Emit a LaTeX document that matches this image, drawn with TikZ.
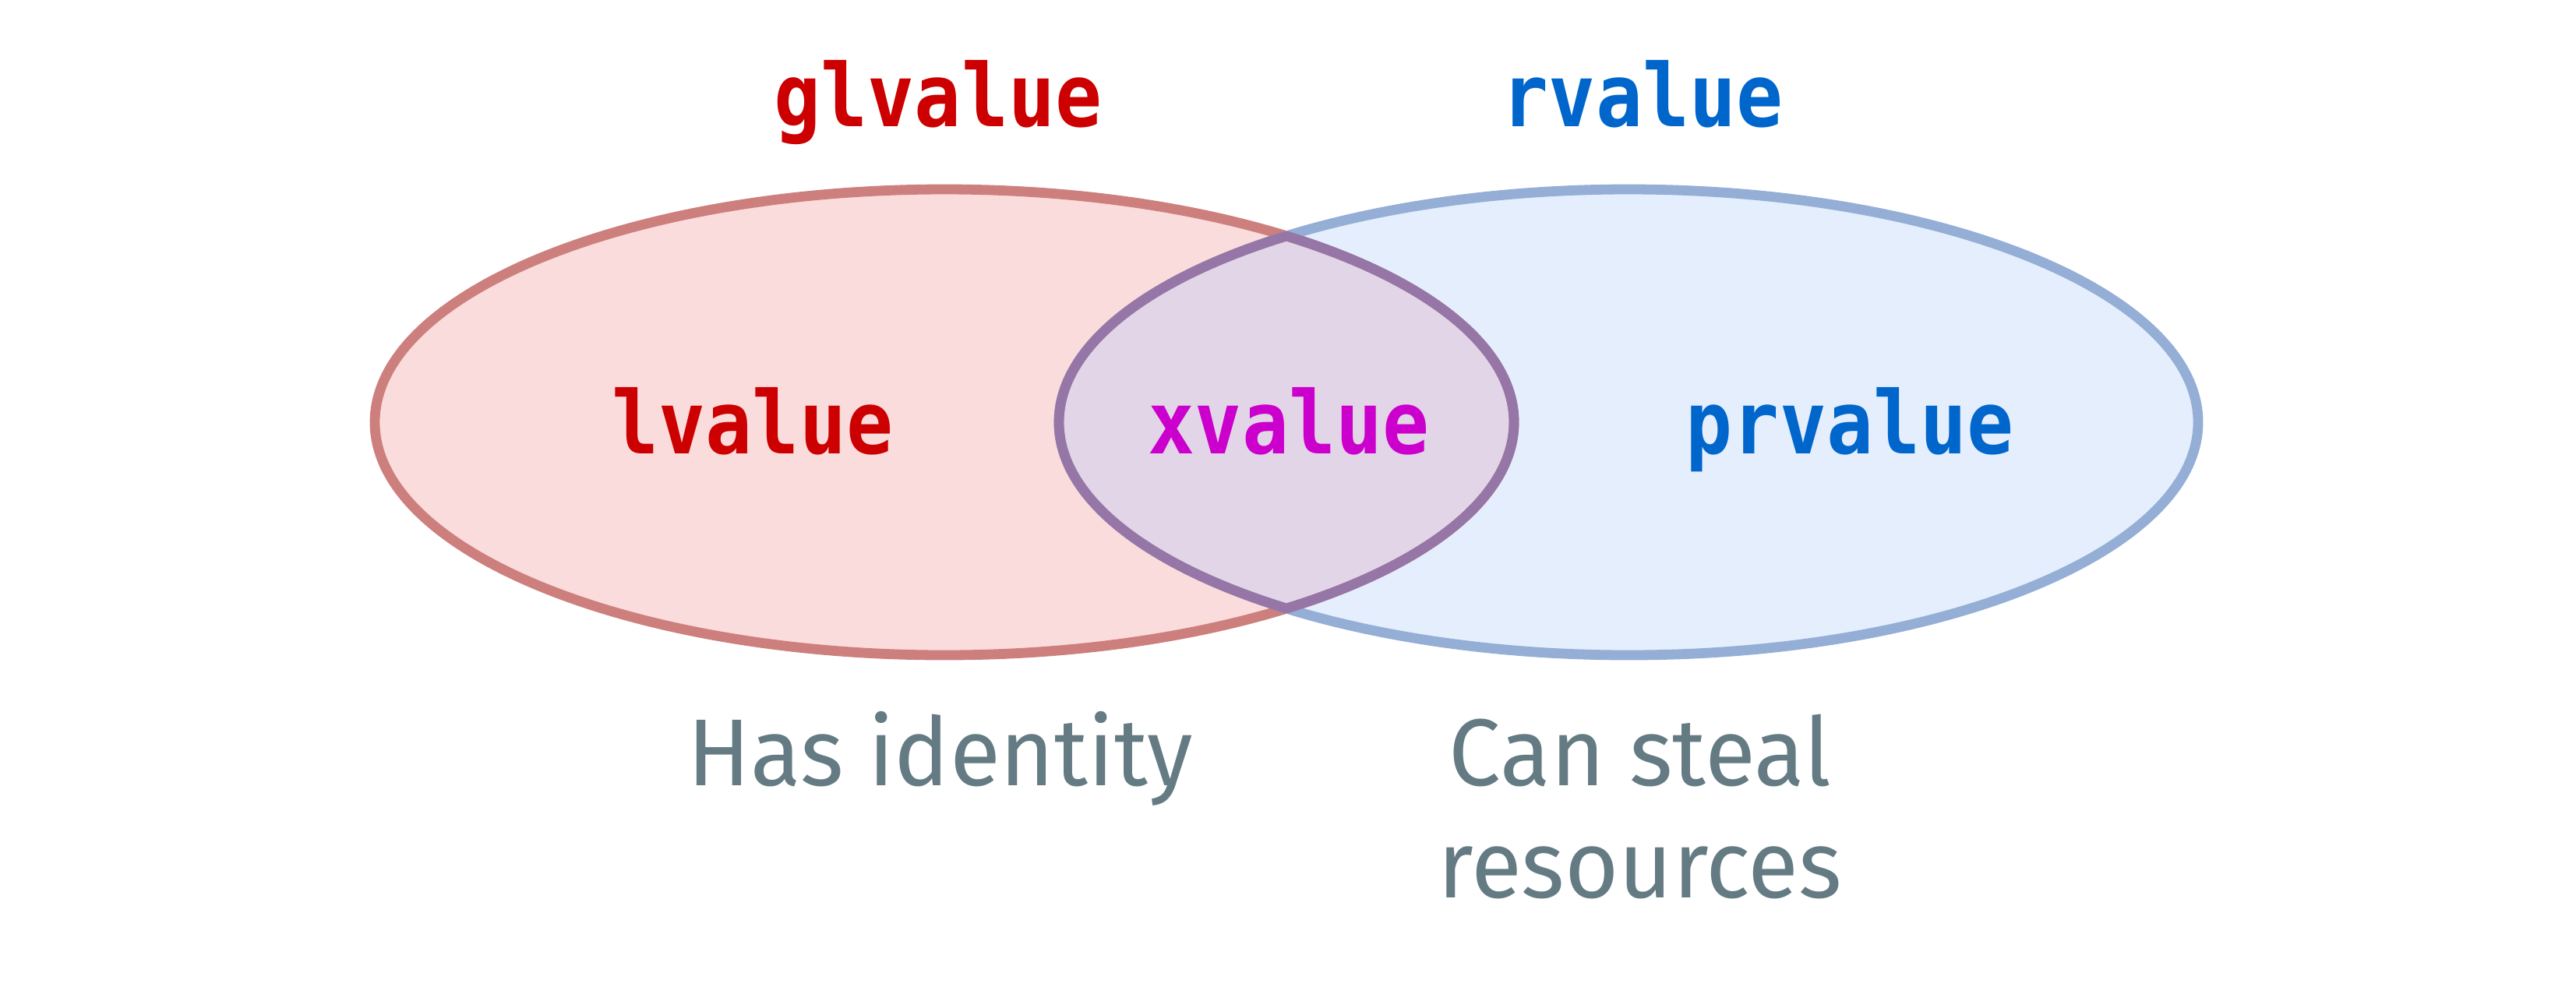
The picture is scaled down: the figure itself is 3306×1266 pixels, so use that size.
\documentclass[tikz,border=0pt]{standalone}
\usepackage{fontspec}
\newfontfamily\codefont{DejaVu Sans Mono}[FakeStretch=0.89]
\newfontfamily\labelfont{Fira Sans}[FakeStretch=0.975]
\definecolor{glred}{HTML}{CC0000}
\definecolor{rblue}{HTML}{0066CC}
\definecolor{xmag}{HTML}{CC00CC}
\definecolor{grayt}{HTML}{657B83}
\definecolor{lfill}{HTML}{F9DCDB}
\definecolor{lstroke}{HTML}{CD7F7D}
\definecolor{rfill}{HTML}{E4EEFC}
\definecolor{rstroke}{HTML}{94AED6}
\definecolor{mfill}{HTML}{E2D5E7}
\definecolor{mstroke}{HTML}{9676A6}
\tikzset{
  code/.style={font=\codefont\bfseries\fontsize{28pt}{34pt}\selectfont, anchor=base, inner sep=0pt},
  caption/.style={font=\labelfont\fontsize{30.5pt}{36pt}\selectfont, text=grayt, anchor=base, inner sep=0pt, align=center},
  ring/.style={line width=3.2pt},
}
\begin{document}
\begin{tikzpicture}[x=0.25pt,y=-0.25pt]
\useasboundingbox (0,0) rectangle (3306,1266);
% sets
\fill[lfill] (1212,542) ellipse [x radius=731, y radius=299];
\fill[rfill] (2090,542) ellipse [x radius=731, y radius=299];
\begin{scope}
  \clip (1212,542) ellipse [x radius=731, y radius=299];
  \fill[mfill] (2090,542) ellipse [x radius=731, y radius=299];
\end{scope}
\draw[ring, lstroke] (1212,542) ellipse [x radius=731, y radius=299];
\draw[ring, rstroke] (2090,542) ellipse [x radius=731, y radius=299];
\begin{scope}
  \clip (1212,542) ellipse [x radius=737, y radius=305];
  \draw[ring, mstroke] (2090,542) ellipse [x radius=731, y radius=299];
\end{scope}
\begin{scope}
  \clip (2090,542) ellipse [x radius=737, y radius=305];
  \draw[ring, mstroke] (1212,542) ellipse [x radius=731, y radius=299];
\end{scope}
% labels
\node[code, text=glred] (gl) at (1204,162) {glvalue};
\node[code, text=rblue] (rv) at (2108,162) {rvalue};
\node[code, text=glred] (lv) at (966,582) {lvalue};
\node[code, text=xmag] (xv) at (1654,582) {xvalue};
\node[code, text=rblue] (pr) at (2374,582) {prvalue};
\node[caption] (ident) at (1207,1008) {Has identity};
\node[caption] (steal) at (2105,1152) {Can steal\\resources};
\end{tikzpicture}
\end{document}
